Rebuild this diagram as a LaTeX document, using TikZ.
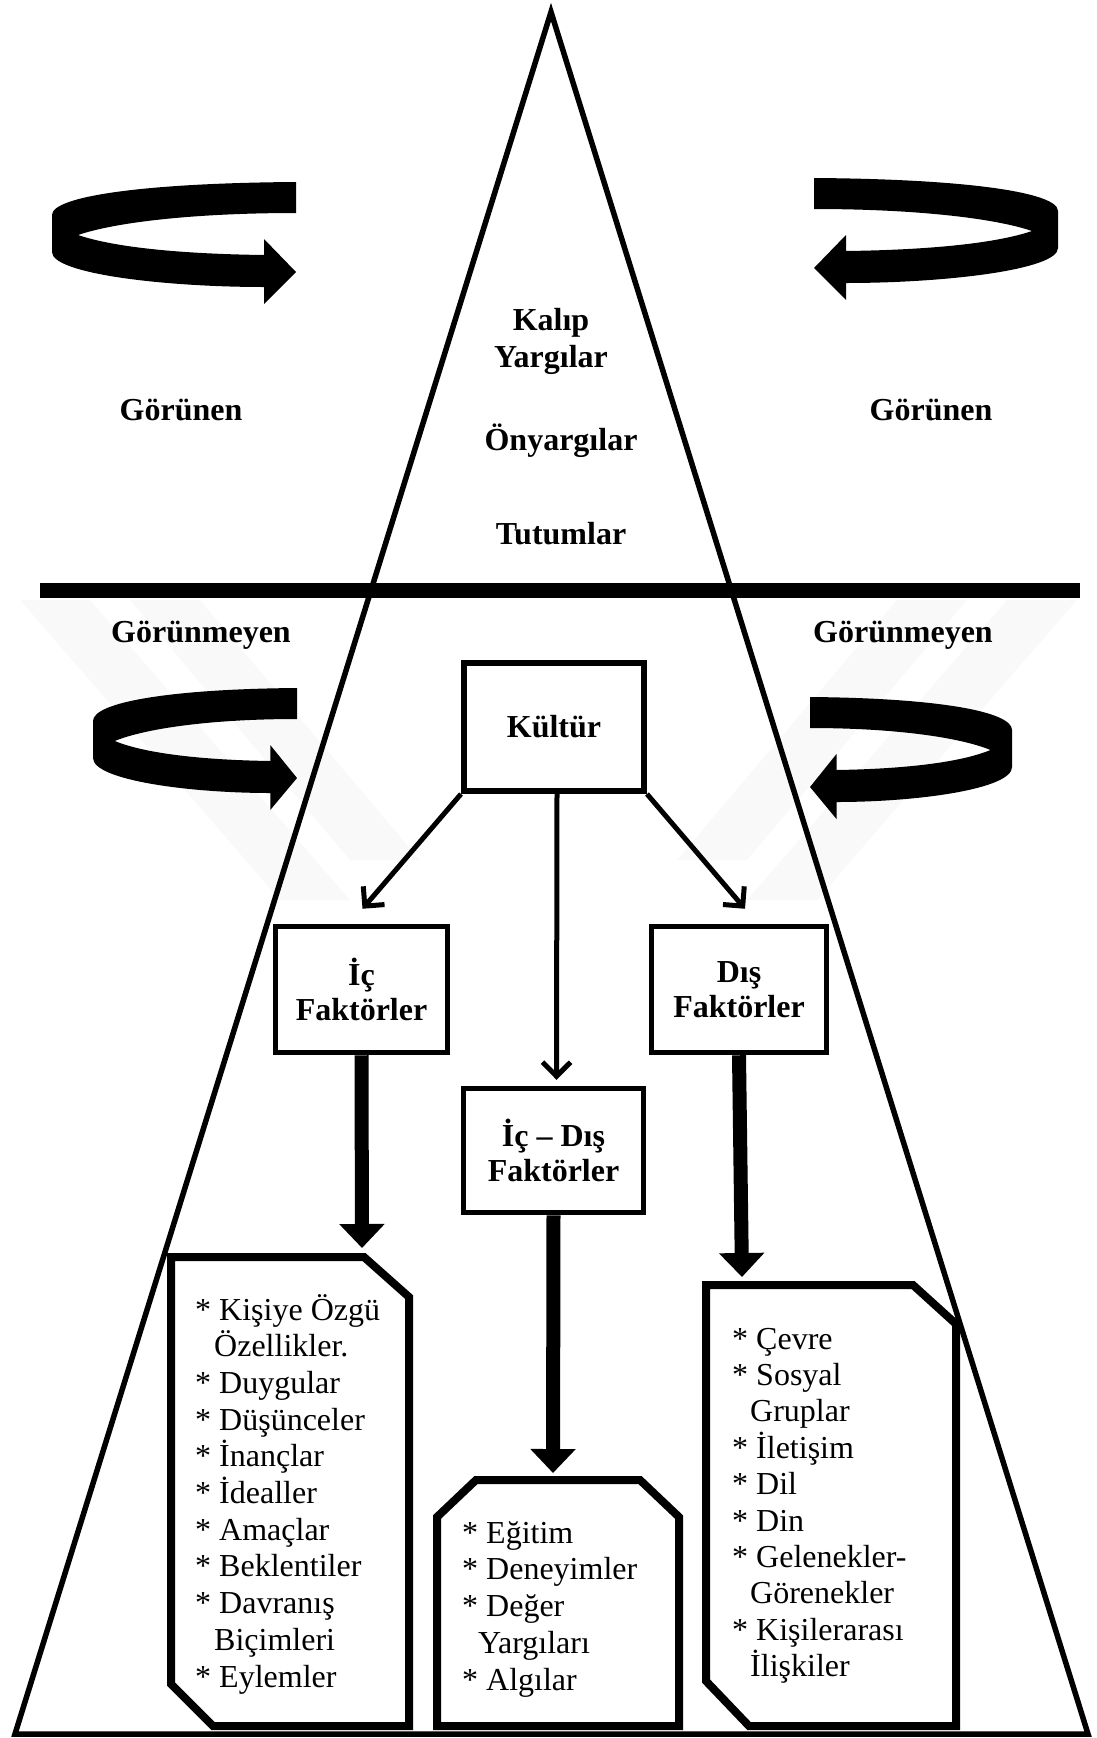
\documentclass[tikz,border=0pt]{standalone}
\usepackage{fontspec}
\setmainfont{Liberation Serif}
\usetikzlibrary{arrows.meta,calc}

\newcommand\mycurvarrow[3]{%
  \begin{scope}[shift={(#1,#2)},xscale=#3]
    \fill (0,0) .. controls (-150,1) and (-244,14) .. (-244,33)
      -- (-244,70) .. controls (-244,92) and (-130,105) .. (-32,105)
      -- (-32,122) -- (0,90) -- (-32,57) -- (-32,73)
      .. controls (-110,72) and (-180,66) .. (-218,53)
      .. controls (-180,40) and (-100,31) .. (0,31) -- cycle;
  \end{scope}}

\tikzset{
  lbl/.style={font=\fontsize{32}{35}\selectfont\bfseries, inner sep=0pt},
  item/.style={font=\fontsize{32}{36}\selectfont, inner sep=0pt, anchor=base west},
  fbox/.style={draw, line width=5.5pt, align=center, inner sep=0pt,
    font=\fontsize{32}{35}\selectfont\bfseries},
  thin arrow/.style={line width=5pt, -{Straight Barb[length=14pt,width=28pt,line width=5pt]}},
  fat arrow/.style={line width=14pt, -{Triangle[length=24pt,width=44pt]}},
  clipbox/.style={draw, line width=8pt, line join=miter}
}

\begin{document}
\begin{tikzpicture}[x=1pt,y=-1pt]
\useasboundingbox (0,0) rectangle (1097,1738);

% faint watermark bands
\fill[gray!5] (20,600) -- (90,600) -- (350,900) -- (280,900) -- cycle;
\fill[gray!5] (130,600) -- (200,600) -- (420,860) -- (350,860) -- cycle;
\fill[gray!5] (1077,600) -- (1007,600) -- (747,900) -- (817,900) -- cycle;
\fill[gray!5] (967,600) -- (897,600) -- (677,860) -- (747,860) -- cycle;

% pyramid
\draw[line width=5.5pt, line join=miter] (551,12) -- (1088,1734) -- (15,1734) -- cycle;

% horizon bar
\fill (40,583) rectangle (1080,598);

% curved arrows
\mycurvarrow{296}{182}{1}
\mycurvarrow{814}{178}{-1}
\mycurvarrow{297}{688}{0.836}
\mycurvarrow{810}{697}{-0.828}

% labels
\node[lbl, anchor=base] (kalip) at (551,330) {Kalıp};
\node[lbl, anchor=base] (yargi) at (551,367) {Yargılar};
\node[lbl, anchor=base] (onyargi) at (561,450) {Önyargılar};
\node[lbl, anchor=base] (tutum) at (561,544) {Tutumlar};
\node[lbl, anchor=base] (gorL) at (181,420) {Görünen};
\node[lbl, anchor=base] (gorR) at (931,420) {Görünen};
\node[lbl, anchor=base] (gormL) at (201,642) {Görünmeyen};
\node[lbl, anchor=base] (gormR) at (903,642) {Görünmeyen};

% boxes
\node[fbox, line width=6pt, minimum width=180pt, minimum height=128pt] (kultur) at (554,727) {Kültür};
\node[fbox, minimum width=172pt, minimum height=126pt] (ic) at (361.5,989.5) {İç\\Faktörler};
\node[fbox, minimum width=175pt, minimum height=126pt] (dis) at (739,989.5) {Dış\\Faktörler};
\node[fbox, minimum width=180pt, minimum height=124pt] (icdis) at (553.5,1150.5) {İç – Dış\\Faktörler};

% thin arrows from Kültür
\draw[thin arrow] (kultur.south west) -- ($(ic.north)+(1,-15)$);
\draw[thin arrow] (kultur.south east) -- ($(dis.north)+(6,-15)$);
\draw[thin arrow] ($(kultur.south)+(3,0)$) -- ($(icdis.north)+(3,-6)$);

% clipped list boxes
\draw[clipbox] (171,1257) -- (364,1257) -- (409,1297) -- (409,1726) -- (213,1726) -- (171,1684) -- cycle;
\draw[clipbox] (437,1726) -- (437,1517) -- (476,1480) -- (640,1480) -- (679,1517) -- (679,1726) -- cycle;
\draw[clipbox] (706,1285) -- (913,1285) -- (956,1324) -- (956,1726) -- (749,1726) -- (706,1681) -- cycle;

\coordinate (leftTop) at (362,1248);
\coordinate (midTop) at (553,1473);
\coordinate (rightTop) at (742,1277);

% fat arrows
\draw[fat arrow] (ic.south) -- (leftTop);
\draw[fat arrow] (icdis.south) -- (midTop);
\draw[fat arrow] (dis.south) -- (rightTop);

% lists
\foreach \ind/\t [count=\i] in {0/{* Kişiye Özgü}, 19/{Özellikler.}, 0/{* Duygular}, 0/{* Düşünceler}, 0/{* İnançlar}, 0/{* İdealler}, 0/{* Amaçlar}, 0/{* Beklentiler}, 0/{* Davranış}, 19/{Biçimleri}, 0/{* Eylemler}}
  \node[item] (L\i) at ({195+\ind},{1320+(\i-1)*36.7}) {\t};

\foreach \ind/\t [count=\i] in {0/{* Eğitim}, 0/{* Deneyimler}, 0/{* Değer}, 16/{Yargıları}, 0/{* Algılar}}
  \node[item] (M\i) at ({462+\ind},{1543+(\i-1)*36.75}) {\t};

\foreach \ind/\t [count=\i] in {0/{* Çevre}, 0/{* Sosyal}, 18/{Gruplar}, 0/{* İletişim}, 0/{* Dil}, 0/{* Din}, 0/{* Gelenekler-}, 18/{Görenekler}, 0/{* Kişilerarası}, 18/{İlişkiler}}
  \node[item] (R\i) at ({732+\ind},{1349+(\i-1)*36.4}) {\t};

\end{tikzpicture}
\end{document}
